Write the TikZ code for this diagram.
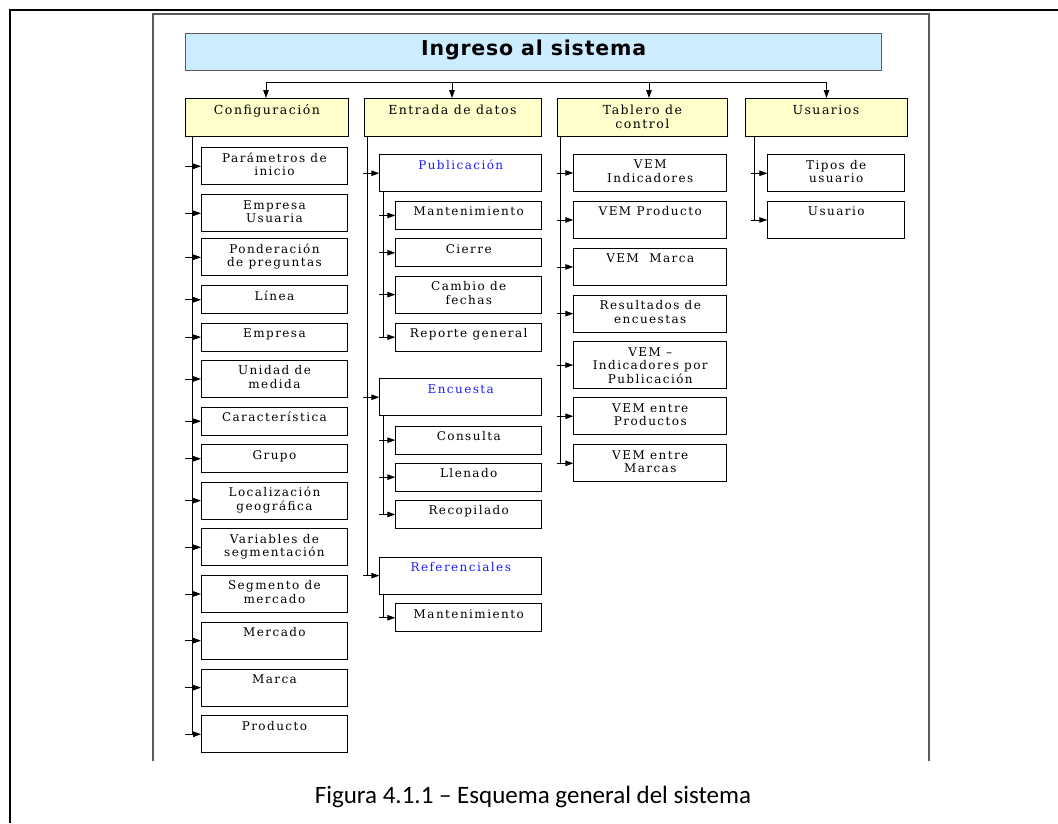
\documentclass[tikz,border=0pt]{standalone}
\usepackage{fontspec}
\usetikzlibrary{arrows.meta}

% faces used in the chart
\newfontfamily\leafface[LetterSpace=12]{DejaVu Serif}
\newfontfamily\titleface[LetterSpace=4]{DejaVu Sans}
\newfontfamily\capface{Carlito}
\newcommand\leaffont{\leafface\fontsize{12}{13.5}\selectfont}
\newcommand\headfont{\leafface\fontsize{12.5}{14}\selectfont}

\definecolor{titlefill}{RGB}{204,236,255}
\definecolor{headfill}{RGB}{255,255,204}
\definecolor{framegray}{RGB}{90,90,90}
\definecolor{groupblue}{RGB}{30,30,255}

% stacked, centred lines whose first baseline is the node baseline
\newcommand\lines[1]{\begin{tabular}[t]{@{}c@{}}#1\end{tabular}}

\tikzset{
  conn/.style={line width=0.9pt},
  arr/.style={conn, -{Triangle[length=8pt,width=5.5pt]}},
  cell/.style={draw, line width=0.9pt, fill=white, anchor=north west,
    inner sep=0pt, minimum width=#1, text height=14.5pt, font=\leaffont},
  short/.style={text depth=13.5pt},
  tall/.style={text depth=22.5pt},
  triple/.style={text depth=32.2pt},
  group/.style={cell=#1, tall, text=groupblue},
  head/.style={draw, line width=0.9pt, fill=headfill, anchor=north west,
    inner sep=0pt, minimum width=#1, text height=16pt, text depth=21.5pt,
    font=\headfont},
}

\begin{document}
\begin{tikzpicture}[x=1pt,y=-1pt]
\useasboundingbox (0,0) rectangle (1058,823);

% page frame and figure frame
\draw[line width=2.6pt] (10,823) -- (10,10) -- (1058,10);
\draw[framegray, line width=1.2pt] (153,761) -- (153,14) -- (929,14) -- (929,761);

% title bar
\node[draw=framegray, line width=1.3pt, fill=titlefill, anchor=north west,
  inner sep=0pt, minimum width=696pt, text height=21.5pt, text depth=15.5pt,
  font=\titleface\bfseries\fontsize{20.5}{24}\selectfont]
  (title) at (185,33) {Ingreso al sistema};

% main modules
\node[head=163pt] (cfg) at (185,98) {Configuración};
\node[head=177pt] (ent) at (363.5,98) {Entrada de datos};
\node[head=170pt] (tab) at (557,98) {\lines{Tablero de\\control}};
\node[head=162pt] (usr) at (744.5,98) {Usuarios};

% Configuración
\node[cell=146pt, tall]  (c1)  at (201,147.3) {\lines{Parámetros de\\inicio}};
\node[cell=146pt, tall]  (c2)  at (201,194.3) {\lines{Empresa\\Usuaria}};
\node[cell=146pt, tall]  (c3)  at (201,238.3) {\lines{Ponderación\\de preguntas}};
\node[cell=146pt, short] (c4)  at (201,285.3) {Línea};
\node[cell=146pt, short] (c5)  at (201,322.7) {Empresa};
\node[cell=146pt, tall]  (c6)  at (201,360)   {\lines{Unidad de\\medida}};
\node[cell=146pt, short] (c7)  at (201,406.7) {Característica};
\node[cell=146pt, short] (c8)  at (201,444.3) {Grupo};
\node[cell=146pt, tall]  (c9)  at (201,481.7) {\lines{Localización\\geográfica}};
\node[cell=146pt, tall]  (c10) at (201,528.3) {\lines{Variables de\\segmentación}};
\node[cell=146pt, tall]  (c11) at (201,575)   {\lines{Segmento de\\mercado}};
\node[cell=146pt, tall]  (c12) at (201,621.7) {Mercado};
\node[cell=146pt, tall]  (c13) at (201,668.7) {Marca};
\node[cell=146pt, tall]  (c14) at (201,715.3) {Producto};

% Entrada de datos
\node[group=162pt]       (e1)  at (379.3,154.3) {Publicación};
\node[cell=146pt, short] (e11) at (395.3,201)   {Mantenimiento};
\node[cell=146pt, short] (e12) at (395.3,238.3) {Cierre};
\node[cell=146pt, tall]  (e13) at (395.3,275.7) {\lines{Cambio de\\fechas}};
\node[cell=146pt, short] (e14) at (395.3,322.7) {Reporte general};
\node[group=162pt]       (e2)  at (379.3,378.3) {Encuesta};
\node[cell=146pt, short] (e21) at (395.3,425.7) {Consulta};
\node[cell=146pt, short] (e22) at (395.3,462.7) {Llenado};
\node[cell=146pt, short] (e23) at (395.3,500)   {Recopilado};
\node[group=162pt]       (e3)  at (379.3,556.7) {Referenciales};
\node[cell=146pt, short] (e31) at (395.3,603.3) {Mantenimiento};

% Tablero de control
\node[cell=153pt, tall]   (t1) at (573.3,154)   {\lines{VEM\\Indicadores}};
\node[cell=153pt, tall]   (t2) at (573.3,201)   {VEM Producto};
\node[cell=153pt, tall]   (t3) at (573.3,248)   {VEM\ \ Marca};
\node[cell=153pt, tall]   (t4) at (573.3,294.7) {\lines{Resultados de\\encuestas}};
\node[cell=153pt, triple] (t5) at (573.3,341.3) {\lines{VEM –\\Indicadores por\\Publicación}};
\node[cell=153pt, tall]   (t6) at (573.3,397.3) {\lines{VEM entre\\Productos}};
\node[cell=153pt, tall]   (t7) at (573.3,444.3) {\lines{VEM entre\\Marcas}};

% Usuarios
\node[cell=137pt, tall] (u1) at (767.3,154.3) {\lines{Tipos de\\usuario}};
\node[cell=137pt, tall] (u2) at (767.3,201)   {Usuario};

% distribution bus under the title
\coordinate (bus) at (0,82);
\coordinate (cfgdrop) at (266,0);
\coordinate (entdrop) at (452,0);
\coordinate (tabdrop) at (649,0);
\coordinate (usrdrop) at (826.5,0);
\draw[conn] (cfgdrop |- bus) -- (usrdrop |- bus);
\draw[arr] (cfgdrop |- bus) -- (cfgdrop |- cfg.north);
\draw[arr] (entdrop |- bus) -- (entdrop |- ent.north);
\draw[arr] (tabdrop |- bus) -- (tabdrop |- tab.north);
\draw[arr] (usrdrop |- bus) -- (usrdrop |- usr.north);

% rails and their branch arrows
\coordinate (cfgrail) at (192,0);   \coordinate (cfgtail) at (185,0);
\coordinate (entrail) at (367.3,0); \coordinate (enttail) at (363.3,0);
\coordinate (subrail) at (383.3,0); \coordinate (subtail) at (379.3,0);
\coordinate (tabrail) at (560.7,0); \coordinate (tabtail) at (556.7,0);
\coordinate (usrrail) at (754,0);   \coordinate (usrtail) at (750.7,0);

\draw[conn] (cfg.south -| cfgrail) -- (c14.west -| cfgrail);
\foreach \n in {c1,c2,c3,c4,c5,c6,c7,c8,c9,c10,c11,c12,c13,c14}
  \draw[arr] (\n.west -| cfgtail) -- (\n.west);

\draw[conn] (ent.south -| entrail) -- (e3.west -| entrail);
\foreach \n in {e1,e2,e3}
  \draw[arr] (\n.west -| enttail) -- (\n.west);
\draw[conn] (e1.south -| subrail) -- (e14.west -| subrail);
\draw[conn] (e2.south -| subrail) -- (e23.west -| subrail);
\draw[conn] (e3.south -| subrail) -- (e31.west -| subrail);
\foreach \n in {e11,e12,e13,e14,e21,e22,e23,e31}
  \draw[arr] (\n.west -| subtail) -- (\n.west);

\draw[conn] (tab.south -| tabrail) -- (t7.west -| tabrail);
\foreach \n in {t1,t2,t3,t4,t5,t6,t7}
  \draw[arr] (\n.west -| tabtail) -- (\n.west);

\draw[conn] (usr.south -| usrrail) -- (u2.west -| usrrail);
\foreach \n in {u1,u2}
  \draw[arr] (\n.west -| usrtail) -- (\n.west);

% caption
\node[font=\capface\fontsize{25}{30}\selectfont] (cap) at (533,797)
  {Figura 4.1.1 – Esquema general del sistema};
\end{tikzpicture}
\end{document}
